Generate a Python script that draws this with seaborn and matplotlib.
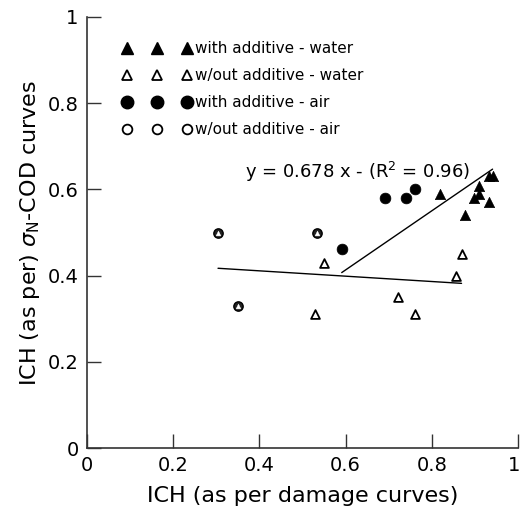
import matplotlib
matplotlib.use("Agg")
import matplotlib.pyplot as plt
import matplotlib.transforms as mtransforms
from matplotlib.lines import Line2D
import seaborn as sns
import pandas as pd

# data
wa_water_x = [0.820, 0.877, 0.899, 0.910, 0.909, 0.932, 0.932, 0.942]
wa_water_y = [0.589, 0.540, 0.579, 0.589, 0.609, 0.570, 0.631, 0.631]
wo_water_x = [0.551, 0.530, 0.721, 0.761, 0.856, 0.871]
wo_water_y = [0.430, 0.310, 0.350, 0.310, 0.399, 0.449]
wa_air_x = [0.592, 0.692, 0.740, 0.761]
wa_air_y = [0.461, 0.579, 0.579, 0.600]
wo_air_x = [0.304, 0.534, 0.351]
wo_air_y = [0.500, 0.500, 0.329]
fit_low_x = [0.304, 0.869]
fit_low_y = [0.417, 0.382]
fit_up_x = [0.591, 0.941]
fit_up_y = [0.407, 0.647]

labels = ["with additive - water", "w/out additive - water",
          "with additive - air", "w/out additive - air"]

sns.set_style("ticks")
plt.rcParams['font.family'] = ['DejaVu Sans']
plt.rcParams['text.color'] = 'black'
plt.rcParams['axes.labelcolor'] = 'black'
plt.rcParams['xtick.labelcolor'] = 'black'
plt.rcParams['ytick.labelcolor'] = 'black'

fig = plt.figure(figsize=(5.21, 5.16), dpi=100)
ax = fig.add_axes([87/521, 68/516, 431/521, 431/516])

sns.lineplot(x=fit_low_x, y=fit_low_y, ax=ax, color="black", linewidth=1.0)
sns.lineplot(x=fit_up_x, y=fit_up_y, ax=ax, color="black", linewidth=1.0)

sns.scatterplot(x=wa_water_x, y=wa_water_y, ax=ax, marker="^", s=55,
                color="black", edgecolor="black", linewidth=0.5)
sns.scatterplot(x=wo_water_x, y=wo_water_y, ax=ax, marker="^", s=40,
                facecolor="white", edgecolor="black", linewidth=1.3)
sns.scatterplot(x=wa_air_x, y=wa_air_y, ax=ax, marker="o", s=60,
                color="black", edgecolor="black", linewidth=0.5)
sns.scatterplot(x=wo_air_x, y=wo_air_y, ax=ax, marker="o", s=45,
                facecolor="#222222", edgecolor="black", linewidth=1.0)
sns.scatterplot(x=wo_air_x, y=wo_air_y, ax=ax, marker="^", s=12,
                facecolor="white", edgecolor="white", linewidth=0.3)

ax.set_xlim(0, 1)
ax.set_ylim(0, 1)
ax.set_xticks([0, 0.2, 0.4, 0.6, 0.8, 1])
ax.set_xticklabels(["0", "0.2", "0.4", "0.6", "0.8", "1"])
ax.set_yticks([0, 0.2, 0.4, 0.6, 0.8, 1])
ax.set_yticklabels(["0", "0.2", "0.4", "0.6", "0.8", "1"])
ax.tick_params(direction="in", length=10, width=1, labelsize=14, color="#333333")
ax.tick_params(axis="x", pad=6)
ax.tick_params(axis="y", pad=6)
for s in ["top", "right"]:
    ax.spines[s].set_visible(False)
for s in ["left", "bottom"]:
    ax.spines[s].set_linewidth(1.2)
    ax.spines[s].set_color("#333333")

# nudge the last x tick label so it stays inside the canvas
last = ax.get_xticklabels()[-1]
last.set_transform(last.get_transform() +
                   mtransforms.ScaledTranslation(-4/100, 0, fig.dpi_scale_trans))

ax.set_xlabel("ICH (as per damage curves)", fontsize=16, labelpad=8)
ax.set_ylabel(r"ICH (as per) $\sigma_{\mathrm{N}}$-COD curves", fontsize=16, labelpad=4)

ax.text(0.627, 0.64, r"y = 0.678 x - (R$^2$ = 0.96)", fontsize=13,
        ha="center", va="center", transform=ax.transData)

handles = [
    Line2D([], [], marker="^", linestyle="none", color="black", markersize=8),
    Line2D([], [], marker="^", linestyle="none", markerfacecolor="white",
           markeredgecolor="black", markersize=7, markeredgewidth=1.3),
    Line2D([], [], marker="o", linestyle="none", color="black", markersize=9),
    Line2D([], [], marker="o", linestyle="none", markerfacecolor="white",
           markeredgecolor="black", markersize=7, markeredgewidth=1.3),
]
ax.legend(handles, labels, loc="upper left", bbox_to_anchor=(0.068, 0.958),
          numpoints=3, handlelength=4.5, handletextpad=0.25, labelspacing=0.78,
          frameon=False, fontsize=11, borderaxespad=0)

fig.savefig("out.png", dpi=100)
